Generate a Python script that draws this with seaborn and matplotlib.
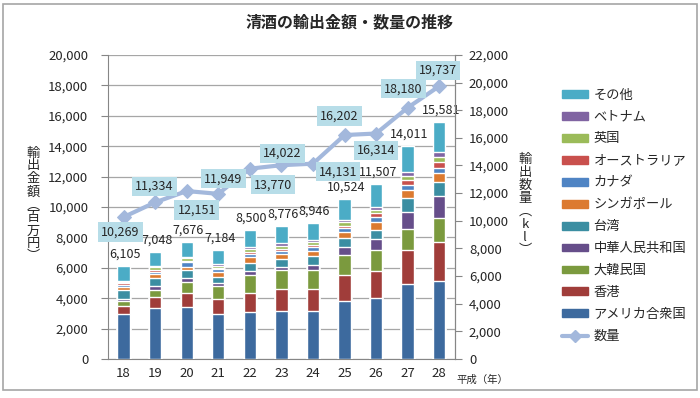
import numpy as np
import pandas as pd
import matplotlib
matplotlib.use("Agg")
import matplotlib.pyplot as plt
import seaborn as sns
from matplotlib.patches import Patch, Rectangle
from matplotlib.lines import Line2D

# 年度（平成）
years = ["18", "19", "20", "21", "22", "23", "24", "25", "26", "27", "28"]

# 国別輸出金額（百万円）— 下から順に積み上げ
usa = [2970, 3370, 3430, 2930, 3080, 3150, 3150, 3800, 4020, 4900, 5115]
hongkong = [500, 700, 920, 1030, 1270, 1480, 1440, 1710, 1790, 2250, 2580]
korea = [320, 480, 700, 810, 1160, 1220, 1250, 1350, 1360, 1420, 1570]
china = [180, 220, 280, 240, 310, 180, 370, 480, 720, 1130, 1460]
taiwan = [590, 570, 510, 390, 520, 570, 590, 610, 590, 880, 940]
singapore = [150, 220, 240, 300, 350, 310, 330, 390, 520, 550, 590]
canada = [175, 175, 280, 220, 220, 220, 240, 260, 310, 320, 330]
australia = [110, 130, 110, 90, 110, 110, 150, 175, 260, 330, 390]
uk = [100, 175, 175, 130, 200, 175, 175, 220, 220, 240, 330]
vietnam = [50, 90, 90, 90, 130, 200, 130, 130, 175, 260, 330]
others = [960, 918, 941, 954, 1150, 1161, 1121, 1399, 1542, 1731, 1946]

totals = [6105, 7048, 7676, 7184, 8500, 8776, 8946, 10524, 11507, 14011, 15581]
volume = [10269, 11334, 12151, 11949, 13770, 14022, 14131, 16202, 16314, 18180, 19737]

series_names = ["アメリカ合衆国", "香港", "大韓民国", "中華人民共和国", "台湾", "シンガポール",
                "カナダ", "オーストラリア", "英国", "ベトナム", "その他"]
series_vals = [usa, hongkong, korea, china, taiwan, singapore, canada, australia, uk, vietnam, others]
colors = ["#3d6a9e", "#a03d3a", "#7b9a3e", "#664e8a", "#3b8ea2", "#dc7a30",
          "#4f84c4", "#c9504d", "#9bbb59", "#8064a2", "#4bacc6"]

sns.set_style("white")
plt.rcParams['font.family'] = ['Noto Sans CJK JP', 'DejaVu Sans']

fig = plt.figure(figsize=(7, 3.98), dpi=100)
ax = fig.add_axes([0.154, 0.098, 0.496, 0.764])

# 積み上げ：累積値を上から順に描き重ねる
df = pd.DataFrame(dict(zip(series_names, series_vals)), index=years)
cum = df.cumsum(axis=1)
for name, col in reversed(list(zip(series_names, colors))):
    sns.barplot(x=years, y=cum[name].values, color=col, width=0.39,
                saturation=1, ax=ax, zorder=3)

ax.set_ylim(0, 20000)
ax.set_xlim(-0.5, 10.5)
ax.set_yticks(np.arange(0, 20001, 2000))
ax.set_yticklabels([f"{v:,}" for v in range(0, 20001, 2000)], fontsize=9.5)
ax.yaxis.grid(True, color="#a6a6a6", lw=0.9, zorder=0)
ax.set_axisbelow(True)
ax.set_xticks(range(len(years)))
ax.set_xticklabels(years, fontsize=9.5)
ax.set_xticks(np.arange(-0.5, 11, 1), minor=True)
ax.tick_params(axis="x", which="major", length=0, pad=6)
ax.tick_params(axis="x", which="minor", length=5, color="#868686")
ax.tick_params(axis="y", length=5, color="#868686", left=True, pad=9)
ax.spines["top"].set_visible(False)
for s in ["left", "bottom", "right"]:
    ax.spines[s].set_color("#868686")
ax.set_xlabel("")
ax.set_ylabel("")

for i, t in enumerate(totals):
    ax.text(i + 0.05, t + 350, f"{t:,}", ha="center", va="bottom", fontsize=9)

# 数量（右軸）
ax2 = ax.twinx()
sns.lineplot(x=np.arange(len(years)), y=volume, ax=ax2, color="#a3b8dc", lw=3,
             marker="D", markersize=7, markeredgecolor="#a3b8dc", zorder=5)
ax2.set_ylim(0, 22000)
ax2.set_yticks(np.arange(0, 22001, 2000))
ax2.set_yticklabels([f"{v:,}" for v in range(0, 22001, 2000)], fontsize=9.5)
ax2.tick_params(axis="y", length=5, color="#868686", right=True, pad=5)
for s in ["top", "left", "bottom"]:
    ax2.spines[s].set_visible(False)
ax2.spines["right"].set_color("#868686")
ax2.grid(False)
ax2.set_xlim(-0.5, 10.5)

offsets = [(-3, -15), (-1, 16), (10, -19), (5, 15), (23, -16), (1, 12),
           (25, -8), (-5, 19), (0, -17), (-4, 19), (-1, 16)]
for i, (v, (dx, dy)) in enumerate(zip(volume, offsets)):
    ax2.annotate(f"{v:,}", (i, v), xytext=(dx * 0.72, dy * 0.72), textcoords="offset points",
                 ha="center", va="center", fontsize=9, zorder=6,
                 bbox=dict(boxstyle="square,pad=0.25", fc="#b7dde8", ec="none"))

# 軸ラベル（縦書き）
fig.text(0.047, 0.485, "\n".join("輸出金額︵百万円︶"), ha="center", va="center",
         fontsize=9.5, linespacing=1.0)
fig.text(0.75, 0.485, "\n".join(["輸", "出", "数", "量", "︵", "k", "l", "︶"]), ha="center",
         va="center", fontsize=9.5, linespacing=1.0)
fig.text(0.652, 0.045, "平成（年）", ha="left", va="center", fontsize=7.5)

fig.text(0.5, 0.945, "清酒の輸出金額・数量の推移", ha="center", va="center",
         fontsize=11.5, fontweight="bold")

handles = [Patch(facecolor=c, edgecolor=c, label=n) for n, c in reversed(list(zip(series_names, colors)))]
handles.append(Line2D([], [], color="#a3b8dc", lw=3, marker="D", markersize=6, label="数量"))
fig.legend(handles=handles, loc="center left", bbox_to_anchor=(0.795, 0.458), frameon=False,
           fontsize=9.5, handlelength=2.0, handleheight=0.55, labelspacing=0.68,
           handletextpad=0.4, borderaxespad=0)

fig.patches.append(Rectangle((0.004, 0.02), 0.992, 0.97, transform=fig.transFigure,
                             fill=False, ec="#a6a6a6", lw=1.2))

fig.savefig("out.png", dpi=100)
